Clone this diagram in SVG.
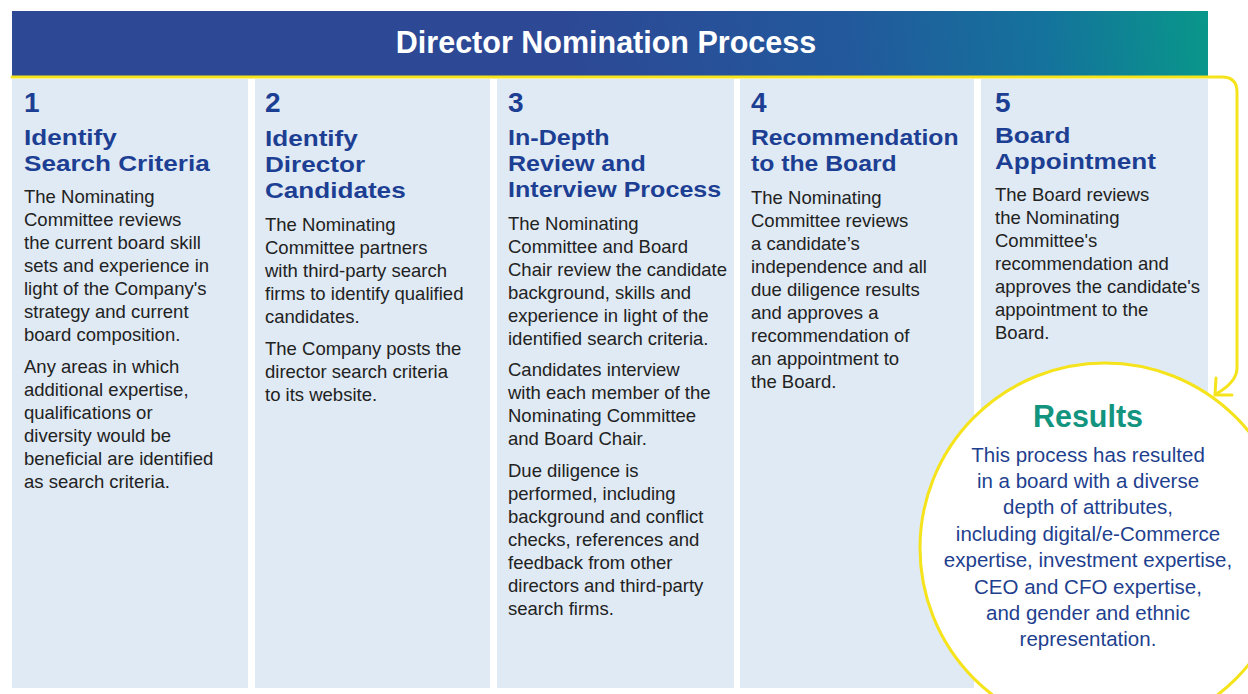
<svg xmlns="http://www.w3.org/2000/svg" width="1248" height="694" viewBox="0 0 1248 694">
<defs>
<linearGradient id="bannerGrad" gradientUnits="userSpaceOnUse" x1="560" y1="76" x2="1208" y2="11">
<stop offset="0" stop-color="#2d4895"/>
<stop offset="0.45" stop-color="#22599c"/>
<stop offset="0.75" stop-color="#14739c"/>
<stop offset="1" stop-color="#09978a"/>
</linearGradient>
<style>
.col{fill:#e0eaf4}
.num{font-family:"Liberation Sans",Arial,sans-serif;font-weight:bold;font-size:28px;fill:#1d3f93}
.ttl{font-family:"Liberation Sans",Arial,sans-serif;font-weight:bold;font-size:22.5px;fill:#1d3f93}
.body{font-family:"Liberation Sans",Arial,sans-serif;font-size:18.5px;fill:#222222}
.res{font-family:"Liberation Sans",Arial,sans-serif;font-weight:bold;font-size:30.5px;fill:#13947f;text-anchor:middle}
.resb{font-family:"Liberation Sans",Arial,sans-serif;font-size:20.5px;fill:#1e3f8e;text-anchor:middle}
.yl{fill:none;stroke:#f5e31c;stroke-width:3;stroke-linecap:round;stroke-linejoin:round}
</style>
</defs>
<rect width="1248" height="694" fill="#ffffff"/>

<g id="banner">
<rect x="12" y="11" width="1196" height="65" fill="url(#bannerGrad)"/>
<text x="606" y="53" font-family="Liberation Sans, Arial, sans-serif" font-weight="bold" font-size="30.5" fill="#ffffff" text-anchor="middle">Director Nomination Process</text>
</g>

<g id="step1">
<rect class="col" x="12" y="79" width="236" height="609"/>
<text class="num" x="24" y="112">1</text>
<text class="ttl" transform="translate(24,145) scale(1.16,1)">Identify</text>
<text class="ttl" transform="translate(24,171) scale(1.16,1)">Search Criteria</text>
<text class="body" x="24" y="203">The Nominating</text>
<text class="body" x="24" y="226">Committee reviews</text>
<text class="body" x="24" y="249">the current board skill</text>
<text class="body" x="24" y="272">sets and experience in</text>
<text class="body" x="24" y="295">light of the Company's</text>
<text class="body" x="24" y="318">strategy and current</text>
<text class="body" x="24" y="341">board composition.</text>
<text class="body" x="24" y="373">Any areas in which</text>
<text class="body" x="24" y="396">additional expertise,</text>
<text class="body" x="24" y="419">qualifications or</text>
<text class="body" x="24" y="442">diversity would be</text>
<text class="body" x="24" y="465">beneficial are identified</text>
<text class="body" x="24" y="488">as search criteria.</text>
</g>

<g id="step2">
<rect class="col" x="255" y="79" width="235" height="609"/>
<text class="num" x="265" y="112">2</text>
<text class="ttl" transform="translate(265,146) scale(1.16,1)">Identify</text>
<text class="ttl" transform="translate(265,172) scale(1.16,1)">Director</text>
<text class="ttl" transform="translate(265,198) scale(1.16,1)">Candidates</text>
<text class="body" x="265" y="231">The Nominating</text>
<text class="body" x="265" y="254">Committee partners</text>
<text class="body" x="265" y="277">with third-party search</text>
<text class="body" x="265" y="300">firms to identify qualified</text>
<text class="body" x="265" y="323">candidates.</text>
<text class="body" x="265" y="355">The Company posts the</text>
<text class="body" x="265" y="378">director search criteria</text>
<text class="body" x="265" y="401">to its website.</text>
</g>

<g id="step3">
<rect class="col" x="497" y="79" width="237" height="609"/>
<text class="num" x="508" y="112">3</text>
<text class="ttl" transform="translate(508,145) scale(1.115,1)">In-Depth</text>
<text class="ttl" transform="translate(508,171) scale(1.115,1)">Review and</text>
<text class="ttl" transform="translate(508,197) scale(1.115,1)">Interview Process</text>
<text class="body" x="508" y="230">The Nominating</text>
<text class="body" x="508" y="253">Committee and Board</text>
<text class="body" x="508" y="276">Chair review the candidate</text>
<text class="body" x="508" y="299">background, skills and</text>
<text class="body" x="508" y="322">experience in light of the</text>
<text class="body" x="508" y="345">identified search criteria.</text>
<text class="body" x="508" y="376">Candidates interview</text>
<text class="body" x="508" y="399">with each member of the</text>
<text class="body" x="508" y="422">Nominating Committee</text>
<text class="body" x="508" y="445">and Board Chair.</text>
<text class="body" x="508" y="477">Due diligence is</text>
<text class="body" x="508" y="500">performed, including</text>
<text class="body" x="508" y="523">background and conflict</text>
<text class="body" x="508" y="546">checks, references and</text>
<text class="body" x="508" y="569">feedback from other</text>
<text class="body" x="508" y="592">directors and third-party</text>
<text class="body" x="508" y="615">search firms.</text>
</g>

<g id="step4">
<rect class="col" x="740" y="79" width="234" height="609"/>
<text class="num" x="751" y="112">4</text>
<text class="ttl" transform="translate(751,145) scale(1.10,1)">Recommendation</text>
<text class="ttl" transform="translate(751,171) scale(1.10,1)">to the Board</text>
<text class="body" x="751" y="204">The Nominating</text>
<text class="body" x="751" y="227">Committee reviews</text>
<text class="body" x="751" y="250">a candidate’s</text>
<text class="body" x="751" y="273">independence and all</text>
<text class="body" x="751" y="296">due diligence results</text>
<text class="body" x="751" y="319">and approves a</text>
<text class="body" x="751" y="342">recommendation of</text>
<text class="body" x="751" y="365">an appointment to</text>
<text class="body" x="751" y="388">the Board.</text>
</g>

<g id="step5">
<rect class="col" x="981" y="79" width="227" height="609"/>
<text class="num" x="995" y="112">5</text>
<text class="ttl" transform="translate(995,143) scale(1.16,1)">Board</text>
<text class="ttl" transform="translate(995,169) scale(1.16,1)">Appointment</text>
<text class="body" x="995" y="201">The Board reviews</text>
<text class="body" x="995" y="224">the Nominating</text>
<text class="body" x="995" y="247">Committee's</text>
<text class="body" x="995" y="270">recommendation and</text>
<text class="body" x="995" y="293">approves the candidate's</text>
<text class="body" x="995" y="316">appointment to the</text>
<text class="body" x="995" y="339">Board.</text>
</g>

<g id="results">
<circle cx="1105" cy="548" r="185" fill="#ffffff" stroke="#f5e31c" stroke-width="3"/>
<text class="res" x="1088" y="427">Results</text>
<text class="resb" x="1088" y="462">This process has resulted</text>
<text class="resb" x="1088" y="488">in a board with a diverse</text>
<text class="resb" x="1088" y="514">depth of attributes,</text>
<text class="resb" x="1088" y="541">including digital/e-Commerce</text>
<text class="resb" x="1088" y="567">expertise, investment expertise,</text>
<text class="resb" x="1088" y="594">CEO and CFO expertise,</text>
<text class="resb" x="1088" y="620">and gender and ethnic</text>
<text class="resb" x="1088" y="646">representation.</text>
</g>

<g id="connectors">
<path class="yl" d="M12 77 H1222 Q1237 77 1237 92 V368 Q1237 382 1216 394"/>
<polyline class="yl" points="1216,378 1215,395 1232,395"/>
</g>
</svg>
